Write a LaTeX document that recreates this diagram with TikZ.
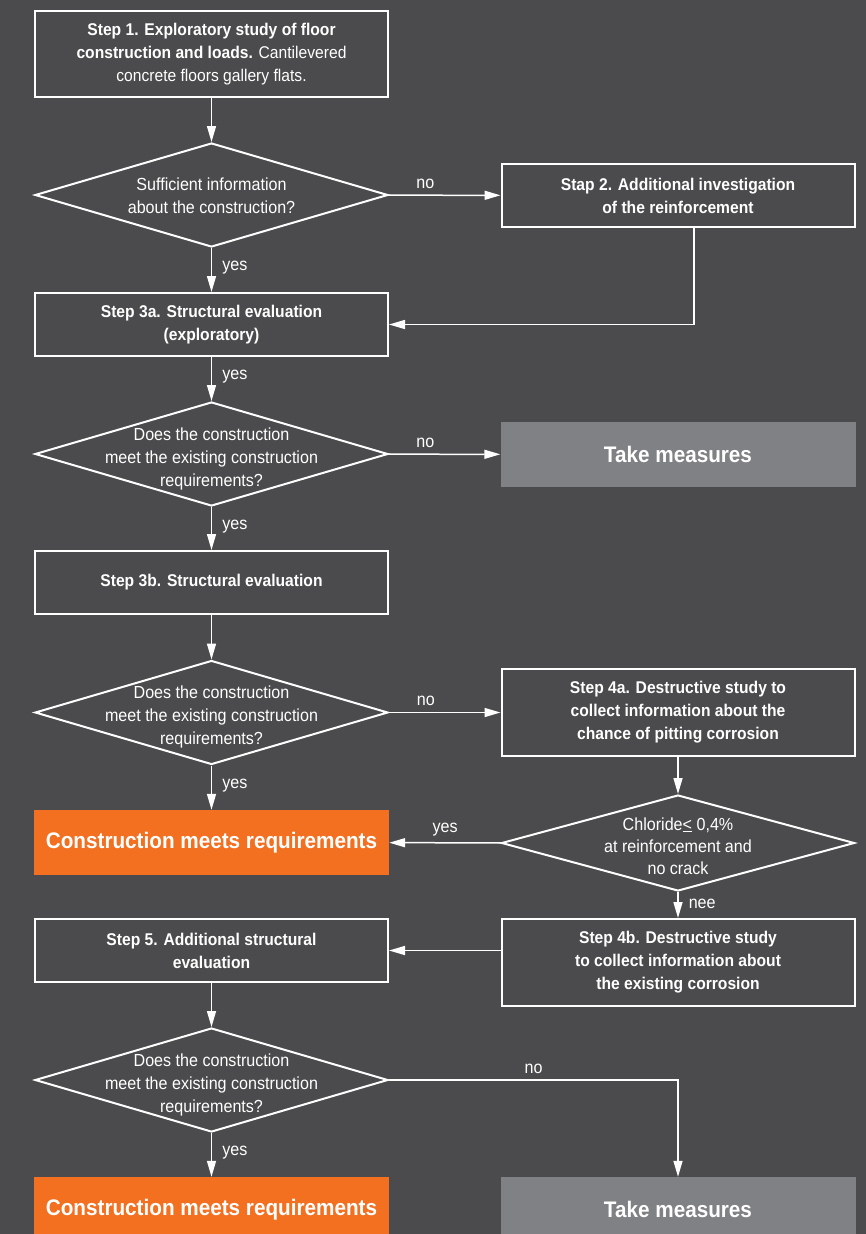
\documentclass[tikz,border=0pt]{standalone}
\usepackage{fontspec}
\setmainfont{Liberation Sans}[FakeStretch=0.92]
\usetikzlibrary{shapes.geometric,arrows.meta,calc}
\definecolor{bgc}{RGB}{75,75,77}
\definecolor{orng}{RGB}{243,112,33}
\definecolor{gbox}{RGB}{128,129,132}
\begin{document}
\begin{tikzpicture}[x=1pt,y=-1pt,
  txt/.style={text=white,font=\fontsize{17.5}{23}\selectfont,align=center},
  stepbox/.style={draw=white,line width=2pt,minimum width=353pt,minimum height=63pt,inner sep=0pt,text=white,align=center,font=\fontsize{17}{23}\selectfont\bfseries},
  dia/.style={diamond,draw=white,line width=2pt,minimum width=353pt,minimum height=104pt,inner sep=0pt},
  dtext/.style={txt},
  endbox/.style={fill=#1,minimum width=355pt,minimum height=65pt,inner sep=0pt,text=white,font=\fontsize{22.5}{26}\selectfont\bfseries},
  arr/.style={draw=white,line width=1.5pt,-{Triangle[length=16pt,width=9pt]}},
  lab/.style={text=white,font=\fontsize{17.5}{19}\selectfont,inner sep=0pt}]
\fill[bgc] (0,0) rectangle (866,1234);
\useasboundingbox (0,0) rectangle (866,1234);

\node[stepbox,minimum height=86pt] (s1) at (211.5,54) {Step 1. Exploratory study of floor\\construction and loads. {\mdseries Cantilevered}\\{\mdseries concrete floors gallery flats.}};
\node[dia] (d1) at (211.5,195) {};
\node[dtext] (t1) at (211.5,196) {Sufficient information\\about the construction?};
\node[stepbox] (s2) at (678,195.5) {Stap 2. Additional investigation\\of the reinforcement};
\node[stepbox] (s3a) at (211.5,324.5) {Step 3a. Structural evaluation\\(exploratory)};
\node[dia] (d2) at (211.5,454) {};
\node[dtext] (t2) at (211.5,459) {Does the construction\\meet the existing construction\\requirements?};
\node[endbox=gbox] (tm1) at (678,454.5) {Take measures};
\node[stepbox] (s3b) at (211.5,582.5) {Step 3b. Structural evaluation};
\node[dia] (d3) at (211.5,712.5) {};
\node[dtext] (t3) at (211.5,717) {Does the construction\\meet the existing construction\\requirements?};
\node[stepbox,minimum height=87pt] (s4a) at (678,712.5) {Step 4a. Destructive study to\\collect information about the\\chance of pitting corrosion};
\node[endbox=orng] (ok1) at (211.5,842.5) {Construction meets requirements};
\node[dia,minimum height=96pt] (d4) at (678,843) {};
\node[dtext,font=\fontsize{17.5}{22}\selectfont] (t4) at (678,846) {Chloride\underline{<} 0,4\%\\at reinforcement and\\no crack};
\node[stepbox,minimum height=87pt] (s4b) at (678,962.5) {Step 4b. Destructive study\\to collect information about\\the existing corrosion};
\node[stepbox] (s5) at (211.5,950.5) {Step 5. Additional structural\\evaluation};
\node[dia] (d5) at (211.5,1080) {};
\node[dtext] (t5) at (211.5,1085) {Does the construction\\meet the existing construction\\requirements?};
\node[endbox=orng] (ok2) at (211.5,1209.5) {Construction meets requirements};
\node[endbox=gbox] (tm2) at (678,1209.5) {Take measures};

\draw[arr] (s1) -- (d1);
\draw[arr] (d1) -- node[lab,right=10pt,pos=0.45]{yes} (s3a);
\draw[arr] (d1) -- node[lab,above=6pt,pos=0.33]{no} (s2);
\draw[arr] ([xshift=16pt]s2.south) |- (s3a.east);
\draw[arr] (s3a) -- node[lab,right=10pt,pos=0.45]{yes} (d2);
\draw[arr] (d2) -- node[lab,above=6pt,pos=0.33]{no} (tm1);
\draw[arr] (d2) -- node[lab,right=10pt,pos=0.45]{yes} (s3b);
\draw[arr] (s3b) -- (d3);
\draw[arr] (d3) -- node[lab,above=6pt,pos=0.33]{no} (s4a);
\draw[arr] (d3) -- node[lab,right=10pt,pos=0.45]{yes} (ok1);
\draw[arr] (s4a) -- (d4);
\draw[arr] (d4) -- node[lab,above=6pt,pos=0.5]{yes} (ok1);
\draw[arr] (d4) -- node[lab,right=10pt,pos=0.45]{nee} (s4b);
\draw[arr] (s5.east -| s4b.west) -- (s5.east);
\draw[arr] (s5) -- (d5);
\draw[arr] (d5) -- node[lab,right=10pt,pos=0.45]{yes} (ok2);
\draw[arr] (d5.east) -| node[lab,above=6pt,pos=0.25]{no} (tm2.north);
\end{tikzpicture}
\end{document}
